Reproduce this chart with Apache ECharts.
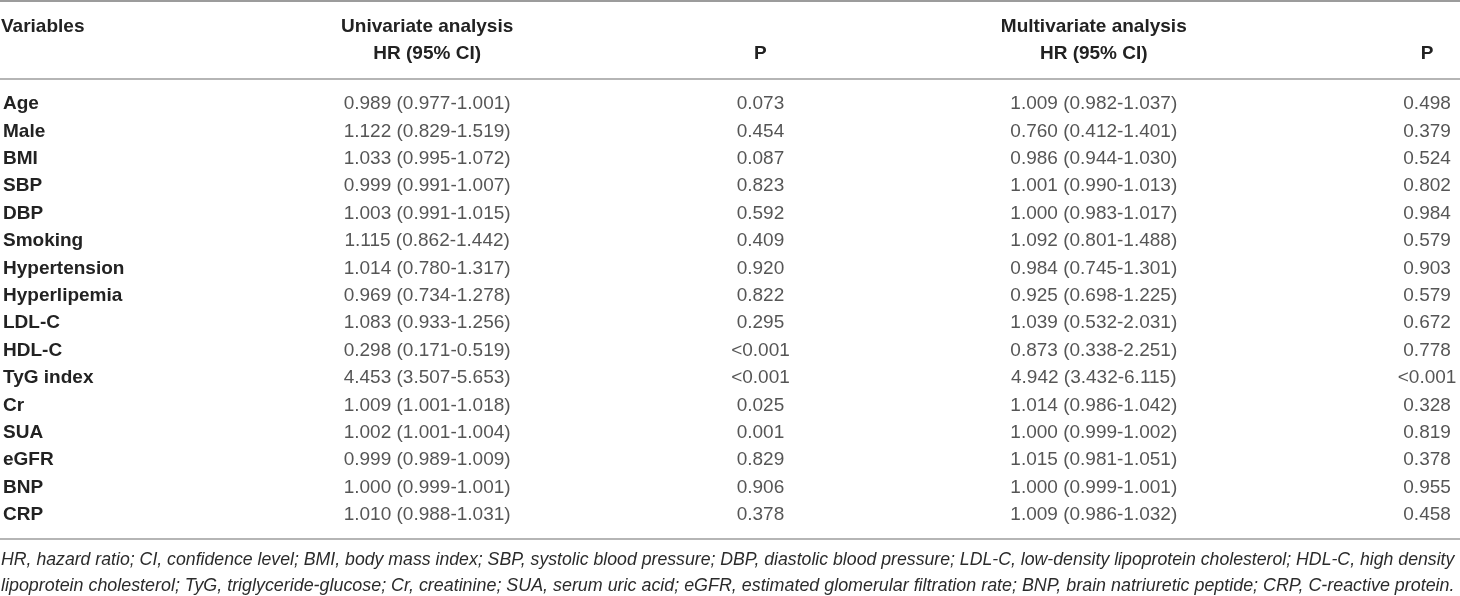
<!DOCTYPE html>
<html>
<head>
<meta charset="utf-8">
<title>Univariate and multivariate Cox regression</title>
<script src="https://cdn.jsdelivr.net/npm/echarts@6/dist/echarts.min.js"></script>
<style>
	html, body { margin: 0; padding: 0; background: #fff; }
	#main { width: 1460px; height: 596px; }
</style>
</head>
<body>
<div id="main"></div>
<script>
	// 表格数据
	var variables = ['Age', 'Male', 'BMI', 'SBP', 'DBP', 'Smoking', 'Hypertension', 'Hyperlipemia',
		'LDL-C', 'HDL-C', 'TyG index', 'Cr', 'SUA', 'eGFR', 'BNP', 'CRP'];
	var uniHR = ['0.989 (0.977-1.001)', '1.122 (0.829-1.519)', '1.033 (0.995-1.072)', '0.999 (0.991-1.007)',
		'1.003 (0.991-1.015)', '1.115 (0.862-1.442)', '1.014 (0.780-1.317)', '0.969 (0.734-1.278)',
		'1.083 (0.933-1.256)', '0.298 (0.171-0.519)', '4.453 (3.507-5.653)', '1.009 (1.001-1.018)',
		'1.002 (1.001-1.004)', '0.999 (0.989-1.009)', '1.000 (0.999-1.001)', '1.010 (0.988-1.031)'];
	var uniP = ['0.073', '0.454', '0.087', '0.823', '0.592', '0.409', '0.920', '0.822',
		'0.295', '<0.001', '<0.001', '0.025', '0.001', '0.829', '0.906', '0.378'];
	var multiHR = ['1.009 (0.982-1.037)', '0.760 (0.412-1.401)', '0.986 (0.944-1.030)', '1.001 (0.990-1.013)',
		'1.000 (0.983-1.017)', '1.092 (0.801-1.488)', '0.984 (0.745-1.301)', '0.925 (0.698-1.225)',
		'1.039 (0.532-2.031)', '0.873 (0.338-2.251)', '4.942 (3.432-6.115)', '1.014 (0.986-1.042)',
		'1.000 (0.999-1.002)', '1.015 (0.981-1.051)', '1.000 (0.999-1.001)', '1.009 (0.986-1.032)'];
	var multiP = ['0.498', '0.379', '0.524', '0.802', '0.984', '0.579', '0.903', '0.579',
		'0.672', '0.778', '<0.001', '0.328', '0.819', '0.378', '0.955', '0.458'];
	var firstHeader = 'Variables';
	var groupHeaders = ['Univariate analysis', 'Multivariate analysis'];
	var columnHeaders = ['HR (95% CI)', 'P', 'HR (95% CI)', 'P'];
	var footnotes = [
		'HR, hazard ratio; CI, confidence level; BMI, body mass index; SBP, systolic blood pressure; DBP, diastolic blood pressure; LDL-C, low-density lipoprotein cholesterol; HDL-C, high density',
		'lipoprotein cholesterol; TyG, triglyceride-glucose; Cr, creatinine; SUA, serum uric acid; eGFR, estimated glomerular filtration rate; BNP, brain natriuretic peptide; CRP, C-reactive protein.'
	];

	var FONT = '"Liberation Sans", Arial, Helvetica, sans-serif';
	var columns = [uniHR, uniP, multiHR, multiP];

	// 列宽约334px，网格从258px开始到画布右边
	var gridLeft = 258, colWidth = 334;

	var chart = echarts.init(document.getElementById('main'), null, { renderer: 'canvas' });

	function cellSeries(values, col) {
		return {
			type: 'scatter',
			symbolSize: 0,
			silent: true,
			data: values.map(function(v, i) {
				return [col, variables[i], v];
			}),
			label: {
				show: true,
				position: 'inside',
				formatter: function(p) { return p.value[2]; },
				fontFamily: FONT,
				fontSize: 19,
				color: '#2b2b2b',
				align: 'center',
				verticalAlign: 'middle'
			}
		};
	}

	chart.setOption({
		animation: false,
		grid: { left: gridLeft, top: 90.3, right: 0, height: 438.4 },
		xAxis: {
			type: 'value', min: 0.5, max: 0.5 + (1460 - gridLeft) / colWidth,
			show: false
		},
		yAxis: {
			type: 'category',
			inverse: true,
			data: variables,
			axisLine: { show: false },
			axisTick: { show: false },
			splitLine: { show: false },
			axisLabel: {
				align: 'left',
				margin: gridLeft - 0.5,
				fontFamily: FONT,
				fontSize: 19,
				fontWeight: 'bold',
				color: '#222'
			}
		},
		series: columns.map(function(c, k) { return cellSeries(c, k + 1); })
	});

	// 表头、横线、脚注
	function colX(k) {
		return chart.convertToPixel({ xAxisIndex: 0 }, k);
	}

	function fitSize(text, target, base) {
		var ctx = document.createElement('canvas').getContext('2d');
		ctx.font = 'italic ' + base + 'px ' + FONT;
		return base * target / ctx.measureText(text).width;
	}

	var headStyle = { fontFamily: FONT, fontSize: 19, fontWeight: 'bold', fill: '#222', verticalAlign: 'middle' };
	var graphics = [];

	graphics.push({ type: 'text', x: 1, y: 27, style: Object.assign({ text: firstHeader, align: 'left' }, headStyle) });
	graphics.push({ type: 'text', x: colX(1), y: 27, style: Object.assign({ text: groupHeaders[0], align: 'center' }, headStyle) });
	graphics.push({ type: 'text', x: colX(3), y: 27, style: Object.assign({ text: groupHeaders[1], align: 'center' }, headStyle) });
	columnHeaders.forEach(function(h, k) {
		graphics.push({ type: 'text', x: colX(k + 1), y: 54, style: Object.assign({ text: h, align: 'center' }, headStyle) });
	});

	[[1, 2], [79, 1.5], [539, 1.5]].forEach(function(r) {
		graphics.push({
			type: 'line',
			shape: { x1: 0, y1: r[0], x2: 1460, y2: r[0] },
			style: { stroke: '#9c9c9c', lineWidth: r[1] }
		});
	});

	footnotes.forEach(function(t, i) {
		graphics.push({
			type: 'text', x: 1, y: 560 + i * 26,
			style: {
				text: t, fontFamily: FONT, fontStyle: 'italic',
				fontSize: fitSize(t, 1454, 18),
				fill: '#2b2b2b', align: 'left', verticalAlign: 'middle'
			}
		});
	});

	chart.setOption({ graphic: graphics });
</script>
</body>
</html>
